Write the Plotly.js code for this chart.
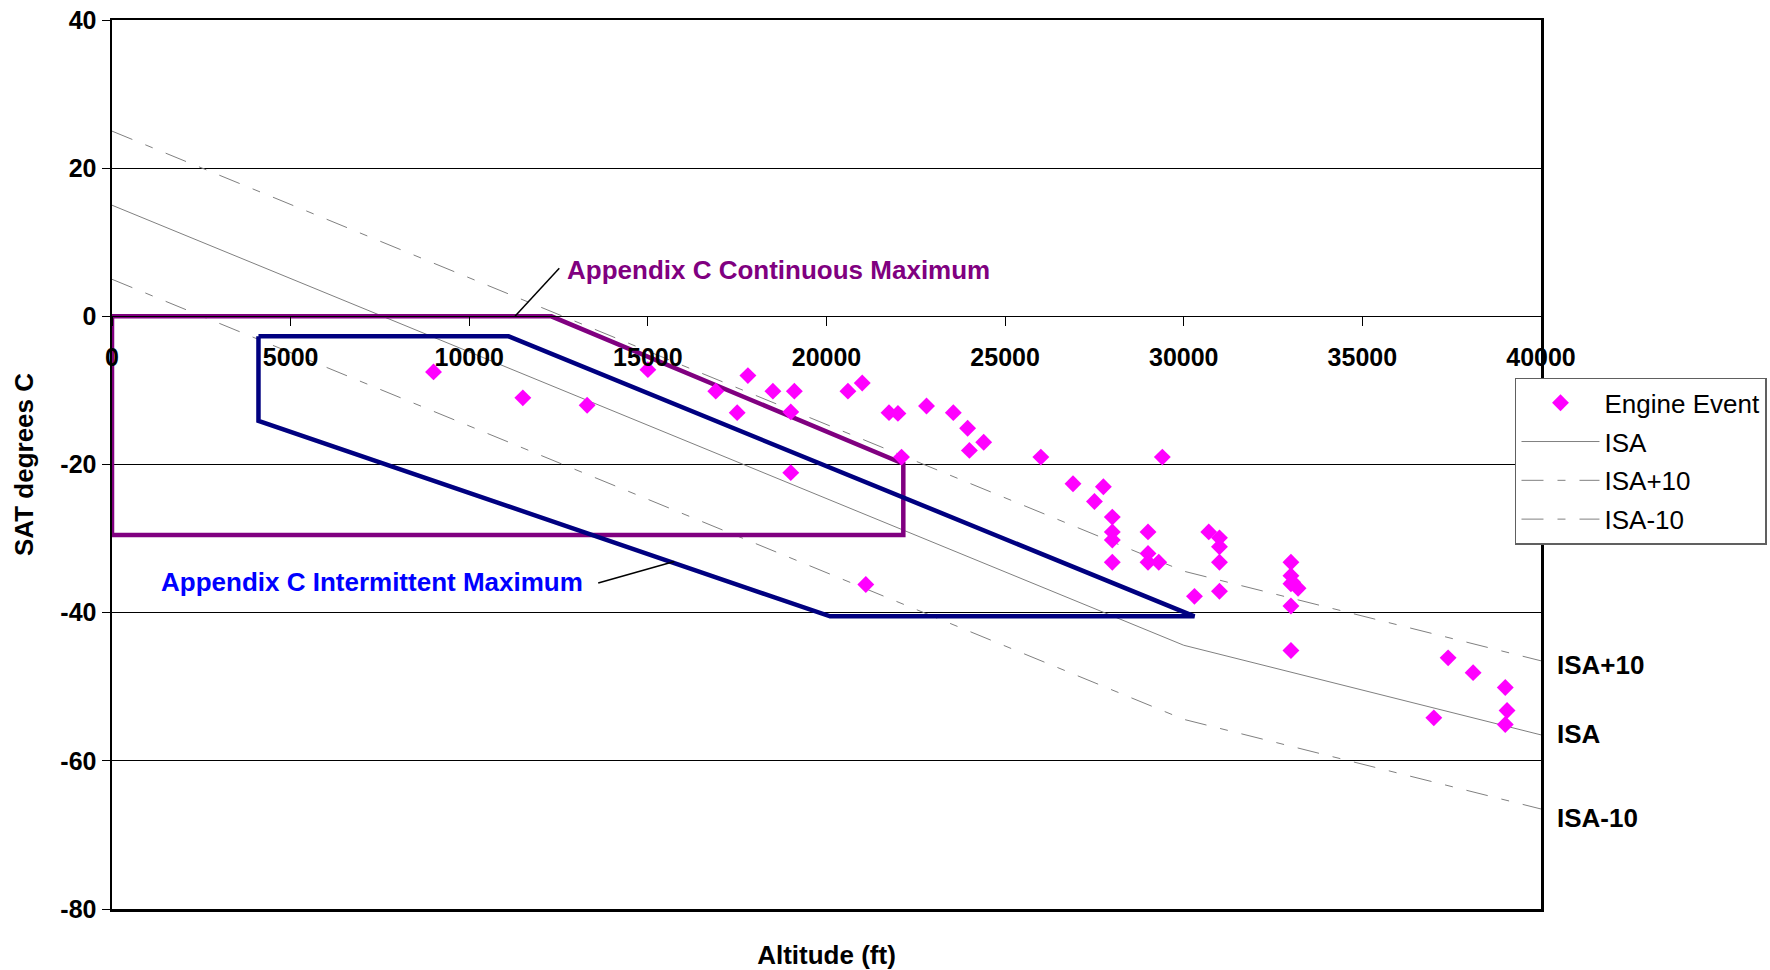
<!DOCTYPE html>
<html>
<head>
<meta charset="utf-8">
<script src="https://cdn.plot.ly/plotly-3.0.1.min.js"></script>
<style>
  html, body { margin: 0; padding: 0; background: #fff; }
  #chart { width: 1770px; height: 970px; }
</style>
</head>
<body>
<div id="chart"></div>
<script>
// ---- Data ----
const altitudeFt = [0, 5000, 10000, 15000, 20000, 25000, 30000, 40000];
const isaTemp = [15, 5.1, -4.8, -14.7, -24.6, -34.5, -44.4, -56.5];
const isaPlus10Temp = [25, 15.1, 5.2, -4.7, -14.6, -24.5, -34.4, -46.5];
const isaMinus10Temp = [5, -4.9, -14.8, -24.7, -34.6, -44.5, -54.4, -66.5];

const eventAltitude = [9000, 11500, 13300, 15000, 16900, 17800, 17500, 18500, 19100, 19000,
  19000, 20600, 21000, 21750, 22000, 22100, 21100, 22800, 23550, 23950,
  24000, 24400, 26000, 29400, 26900, 27750, 27500, 28000, 28000, 28000,
  28000, 29000, 29000, 29000, 29300, 30300, 30700, 31000, 31000, 31000,
  31000, 33000, 33000, 33050, 33000, 33200, 33000, 33000, 37000, 37400,
  38100, 39000, 39050, 39000];
const eventSAT = [-7.5, -11, -12, -7.2, -10.1, -8, -13, -10.1, -10.1, -12.9,
  -21.1, -10.1, -9, -13, -13.1, -19, -36.2, -12.1, -13, -15.1,
  -18.1, -17, -19, -19, -22.6, -23, -25, -27.1, -29.1, -30.2,
  -33.2, -29.1, -32, -33.2, -33.2, -37.8, -29.1, -29.9, -31.1, -33.2,
  -37.1, -33.2, -35, -35.9, -36.1, -36.7, -39.1, -45.1, -54.2, -46.1,
  -48.1, -50.1, -53.2, -55.1];

const continuousAlt = [0, 12300, 22150, 22150, 0, 0];
const continuousTemp = [0, 0, -19.9, -29.5, -29.5, 0];
const intermittentAlt = [4100, 11100, 30300, 20100, 4100, 4100];
const intermittentTemp = [-2.7, -2.7, -40.5, -40.5, -14.1, -2.7];

const xTickVals = [0, 5000, 10000, 15000, 20000, 25000, 30000, 35000, 40000];
const xTickLabels = ['0', '5000', '10000', '15000', '20000', '25000', '30000', '35000', '40000'];
const yTickVals = [-80, -60, -40, -20, 0, 20, 40];
const yTickLabels = ['-80', '-60', '-40', '-20', '0', '20', '40'];

const seriesNames = ['Engine Event', 'ISA', 'ISA+10', 'ISA-10'];
const envelopeLabels = ['Appendix C Continuous Maximum', 'Appendix C Intermittent Maximum'];
const lineEndLabels = ['ISA+10', 'ISA', 'ISA-10'];
const lineEndLabelTemp = [-47, -56.4, -67.7];

// leader lines (label -> envelope)
const continuousLeader = {x: [11280, 12520], y: [0, 6.5]};
const intermittentLeader = {x: [13610, 15740], y: [-36, -33.1]};

// ---- Styles ----
const FONT = 'Liberation Sans, Arial, sans-serif';
const dashDot = '22px,14px,8px,14px';

const traces = [
  {
    name: seriesNames[0], x: eventAltitude, y: eventSAT, type: 'scatter', mode: 'markers',
    xaxis: 'x2', yaxis: 'y', legendgroup: 'g1',
    marker: {symbol: 'diamond', size: 13, color: '#FF00FF', line: {width: 0}}
  },
  {
    name: seriesNames[1], x: altitudeFt, y: isaTemp, type: 'scatter', mode: 'lines', legendgroup: 'g2',
    line: {color: '#808080', width: 1}
  },
  {
    name: seriesNames[2], x: altitudeFt, y: isaPlus10Temp, type: 'scatter', mode: 'lines', legendgroup: 'g3',
    line: {color: '#808080', width: 1, dash: dashDot}
  },
  {
    name: seriesNames[3], x: altitudeFt, y: isaMinus10Temp, type: 'scatter', mode: 'lines', legendgroup: 'g4',
    line: {color: '#808080', width: 1, dash: dashDot}
  },
  {
    name: envelopeLabels[0], x: continuousAlt, y: continuousTemp, type: 'scatter', mode: 'lines',
    showlegend: false, line: {color: '#800080', width: 4.5}
  },
  {
    name: envelopeLabels[1], x: intermittentAlt, y: intermittentTemp, type: 'scatter', mode: 'lines',
    showlegend: false, line: {color: '#000080', width: 4.5}
  }
];

const annotations = [
  {
    xref: 'x', yref: 'y', x: 12680, y: 6.2, xanchor: 'left', yanchor: 'middle',
    text: envelopeLabels[0], showarrow: false,
    font: {family: FONT, size: 26, weight: 'bold', color: '#800080'}
  },
  {
    xref: 'x', yref: 'y', x: 1320, y: -35.9, xanchor: 'left', yanchor: 'middle',
    text: envelopeLabels[1], showarrow: false,
    font: {family: FONT, size: 26, weight: 'bold', color: '#0000FF'}
  }
];
lineEndLabels.forEach((t, i) => {
  annotations.push({
    xref: 'paper', yref: 'y', x: 1.0095, y: lineEndLabelTemp[i], xanchor: 'left', yanchor: 'middle',
    text: t, showarrow: false,
    font: {family: FONT, size: 26, weight: 'bold', color: '#000'}
  });
});

const shapes = [
  {type: 'line', xref: 'x', yref: 'y', x0: continuousLeader.x[0], y0: continuousLeader.y[0],
   x1: continuousLeader.x[1], y1: continuousLeader.y[1], line: {color: '#000', width: 1.5}},
  {type: 'line', xref: 'x', yref: 'y', x0: intermittentLeader.x[0], y0: intermittentLeader.y[0],
   x1: intermittentLeader.x[1], y1: intermittentLeader.y[1], line: {color: '#000', width: 1.5}}
];

const layout = {
  width: 1770, height: 970,
  margin: {l: 112, r: 229, t: 20, b: 61, autoexpand: false},
  paper_bgcolor: '#fff', plot_bgcolor: '#fff',
  font: {family: FONT, color: '#000'},
  showlegend: true,
  xaxis: {
    range: [0, 40000], autorange: false, showline: true, linecolor: '#000', linewidth: 2.5, mirror: true,
    showticklabels: false, ticks: '', showgrid: false, zeroline: false, automargin: false,
    title: {text: 'Altitude (ft)', font: {family: FONT, size: 26, weight: 'bold'}, standoff: 37}
  },
  xaxis2: {
    overlaying: 'x', anchor: 'free', position: 80 / 120, side: 'bottom',
    range: [0, 40000], autorange: false,
    tickmode: 'array', tickvals: xTickVals, ticktext: xTickLabels,
    ticks: 'outside', ticklen: 9, tickwidth: 1, tickcolor: '#000',
    showline: true, linecolor: '#000', linewidth: 1, showgrid: false, zeroline: false,
    tickfont: {family: FONT, size: 25, weight: 'bold', color: '#000'},
    ticklabelstandoff: 10, automargin: false
  },
  yaxis: {
    range: [-80, 40], autorange: false,
    tickmode: 'array', tickvals: yTickVals, ticktext: yTickLabels,
    ticks: 'outside', ticklen: 8, tickwidth: 1, tickcolor: '#000',
    showline: true, linecolor: '#000', linewidth: 2.5, mirror: true,
    showgrid: true, gridcolor: '#000', gridwidth: 1, zeroline: false,
    tickfont: {family: FONT, size: 25, weight: 'bold', color: '#000'},
    title: {text: 'SAT degrees C', font: {family: FONT, size: 26, weight: 'bold'}, standoff: 20},
    automargin: false
  },
  legend: {
    x: 0.9818, y: 0.5975, xanchor: 'left', yanchor: 'top',
    bgcolor: '#fff', bordercolor: '#606060', borderwidth: 1.5,
    font: {family: FONT, size: 26, color: '#000'},
    itemwidth: 78, tracegroupgap: 2, traceorder: 'grouped'
  },
  annotations: annotations,
  shapes: shapes
};

Plotly.newPlot('chart', traces, layout, {displayModeBar: false, staticPlot: true});
</script>
</body>
</html>
